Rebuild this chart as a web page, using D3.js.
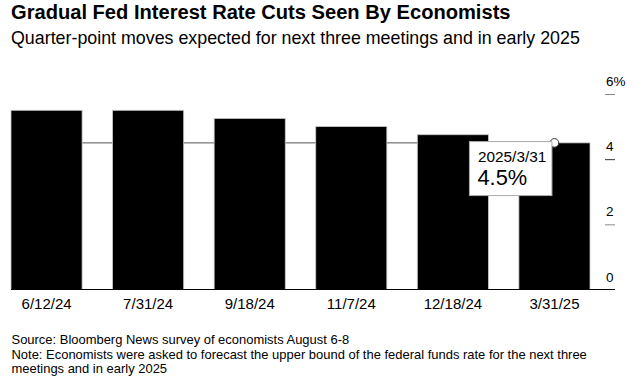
<!DOCTYPE html>
<html>
<head>
<meta charset="utf-8">
<script src="https://cdn.jsdelivr.net/npm/d3@7"></script>
<style>
  html, body { margin: 0; padding: 0; background: #fff; }
  svg { display: block; font-family: "Liberation Sans", Arial, Helvetica, sans-serif; }
</style>
</head>
<body>
<svg id="chart" width="637" height="380"></svg>
<script>
// ---- Data ----
const categories = ["6/12/24", "7/31/24", "9/18/24", "11/7/24", "12/18/24", "3/31/25"];
const rates = [5.5, 5.5, 5.25, 5.0, 4.75, 4.5];
const yTicks = [0, 2, 4, 6];
const hoverIndex = 5;
const hoverLabel = "2025/3/31";
const title = "Gradual Fed Interest Rate Cuts Seen By Economists";
const subtitle = "Quarter-point moves expected for next three meetings and in early 2025";
const sourceLines = [
  "Source: Bloomberg News survey of economists August 6-8",
  "Note: Economists were asked to forecast the upper bound of the federal funds rate for the next three",
  "meetings and in early 2025"
];

const svg = d3.select("#chart");

// fit text to a target width by adjusting font-size
function fit(sel, target) {
  const node = sel.node();
  const fs = parseFloat(sel.attr("font-size"));
  const w = node.getComputedTextLength();
  sel.attr("font-size", (fs * target / w).toFixed(2));
  return fs * target / w;
}

// ---- Titles ----
fit(svg.append("text").attr("x", 11).attr("y", 18.5)
  .attr("font-size", 17).attr("font-weight", "bold").attr("fill", "#000")
  .text(title), 500);
fit(svg.append("text").attr("x", 11).attr("y", 44.3)
  .attr("font-size", 16).attr("fill", "#000")
  .text(subtitle), 569);

// ---- Scales ----
const x = d3.scaleBand().domain(categories).range([11, 590]).paddingInner(0.3).paddingOuter(0);
const y = d3.scaleLinear().domain([0, 6]).range([289.5, 94]);

const g = svg.append("g");

// crosshair line at hovered value
const px = x(categories[hoverIndex]) + x.bandwidth() / 2;
const py = y(rates[hoverIndex]);
g.append("line")
  .attr("x1", x.range()[0]).attr("x2", px)
  .attr("y1", py).attr("y2", py)
  .attr("stroke", "#555").attr("stroke-width", 1);

// bars
g.selectAll("rect.bar").data(rates).join("rect")
  .attr("class", "bar")
  .attr("x", (d, i) => x(categories[i]))
  .attr("width", x.bandwidth())
  .attr("y", d => y(d))
  .attr("height", d => y(0) - y(d))
  .attr("fill", "#000")
  .attr("stroke", "#c8c8c8").attr("stroke-width", 0.8);

// baseline
g.append("line")
  .attr("x1", x.range()[0]).attr("x2", 615)
  .attr("y1", y(0)).attr("y2", y(0))
  .attr("stroke", "#000").attr("stroke-width", 1);

// y axis (right side, labels above short ticks)
const yAxis = d3.axisRight(y).tickValues(yTicks).tickSize(0)
  .tickFormat(d => d === 6 ? d + "%" : d);
const ya = svg.append("g").attr("transform", "translate(605,0)").call(yAxis);
ya.select(".domain").remove();
ya.selectAll(".tick").each(function(d) {
  const t = d3.select(this);
  if (d !== 0) {
    t.append("line").attr("x1", 0).attr("x2", 10).attr("y1", 0).attr("y2", 0)
      .attr("stroke", d === 4 ? "#333" : "#888").attr("stroke-width", 1);
  }
  t.select("text").attr("x", 1).attr("dy", null).attr("y", -8.5)
    .attr("text-anchor", "start")
    .attr("font-family", "Liberation Sans, Arial, sans-serif")
    .attr("font-size", 13.5).attr("fill", "#000");
});

// x axis labels
const xAxis = d3.axisBottom(x).tickSize(0).tickPadding(0);
const xa = svg.append("g").attr("transform", `translate(0,${y(0)})`).call(xAxis);
xa.select(".domain").remove();
xa.selectAll(".tick text").attr("dy", null).attr("y", 19.5)
  .attr("font-family", "Liberation Sans, Arial, sans-serif")
  .attr("font-size", 15).attr("fill", "#000");

// hover point
g.append("circle").attr("cx", px).attr("cy", py).attr("r", 4.3)
  .attr("fill", "#fff").attr("stroke", "#333").attr("stroke-width", 1);

// tooltip
const tip = svg.append("g").attr("transform", `translate(${px - 85},${py - 1.3})`);
tip.append("rect").attr("x", 0).attr("y", 0).attr("width", 82.5).attr("height", 54)
  .attr("fill", "#fff").attr("stroke", "#aaa").attr("stroke-width", 1);
fit(tip.append("text").attr("x", 8.5).attr("y", 20.3).attr("font-size", 14).attr("fill", "#000")
  .text(hoverLabel), 68.4);
fit(tip.append("text").attr("x", 8).attr("y", 43.2).attr("font-size", 21).attr("fill", "#000")
  .text(d3.format(".1f")(rates[hoverIndex]) + "%"), 49.7);

// source / notes
const src = svg.append("g");
const sizes = [];
sourceLines.forEach((t, i) => {
  src.append("text").attr("x", 11.5).attr("y", 344.3 + i * 14.2)
    .attr("font-size", 13).attr("fill", "#000").text(t);
});
fit(src.select("text:nth-child(2)"), 575.5);
const fs = src.select("text:nth-child(2)").attr("font-size");
src.selectAll("text").attr("font-size", fs);
</script>
</body>
</html>
